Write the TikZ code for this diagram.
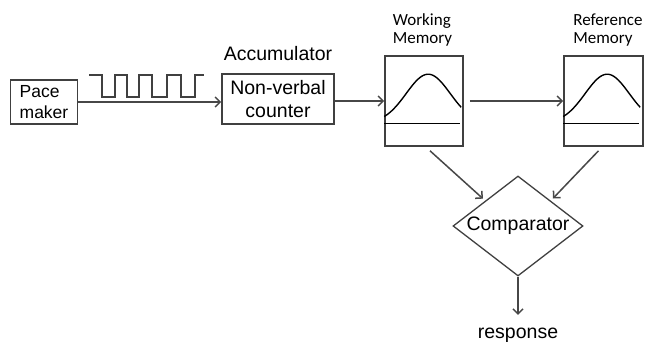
\documentclass[tikz,border=0pt]{standalone}
\usepackage{fontspec}
\setmainfont{Liberation Sans}
\newfontfamily\calibri{Carlito}
\usetikzlibrary{shapes.geometric,arrows.meta}

\begin{document}
\begin{tikzpicture}[x=1pt,y=-1pt,
  box/.style={draw=black!75,line width=1.6pt,inner sep=0pt},
  conn/.style={draw=black!72,line width=1.5pt,-{Straight Barb[length=5pt,width=10pt]}},
  txt/.style={font=\fontsize{19.5}{23}\selectfont},
  memlbl/.style={font=\calibri\fontsize{17}{18}\selectfont,align=left}]
\useasboundingbox (0,0) rectangle (646,342);
\node [box,minimum width=67pt,minimum height=44pt,align=left,font=\fontsize{17.5}{21}\selectfont] (pace) at (44,102) {Pace\\maker};
\node [box,txt,minimum width=112pt,minimum height=50pt,align=center] (counter) at (278,99) {Non-verbal\\counter};
\node [txt,anchor=base] (accu) at (278,61) {Accumulator};
\node [box,minimum width=78pt,minimum height=90pt] (wm) at (424,101) {};
\node [box,minimum width=79pt,minimum height=90pt] (rm) at (603.5,101) {};
\node [memlbl] (wmlbl) at (422.5,30) {Working\\Memory};
\node [memlbl] (rmlbl) at (608,30) {Reference\\Memory};
\node [txt,draw=black!75,line width=1.3pt,diamond,shape aspect=1.3,minimum width=130pt,minimum height=100pt,inner sep=0pt] (cmp) at (518,226) {Comparator};
\node [txt,anchor=base] (resp) at (518,338) {response};
\draw [line width=1.3pt,black!75] (89,75) -- (102,75) -- (102,97) -- (115,97) -- (115,75) -- (127,75) -- (127,97) -- (139,97) -- (139,75) -- (152,75) -- (152,97) -- (167,97) -- (167,75) -- (181,75) -- (181,97) -- (195,97) -- (195,75) -- (204,75);
\foreach \m in {wm,rm} {
  \begin{scope}[shift={(\m.north west)}]
  \draw [line width=1.4pt] plot [domain=-44:33,samples=40,smooth] ({44+\x},{68-49*exp(-(\x*\x)/968)});
  \draw [line width=0.9pt] (0,68) -- (76,68);
  \end{scope}
}
\draw [conn] (pace.east) -- (pace.east -| counter.west);
\draw [conn] (counter.east |- wm.west) -- (wm.west);
\draw [conn] ([xshift=6pt]wm.east) -- (rm.west);
\draw [conn,shorten >=3pt] ([xshift=6pt,yshift=-4pt]wm.south) -- (cmp.north west);
\draw [conn,shorten >=3pt] ([xshift=-5pt,yshift=-4pt]rm.south) -- (cmp.north east);
\draw [conn,shorten >=9pt] (cmp.south) -- (resp.north);
\end{tikzpicture}
\end{document}
